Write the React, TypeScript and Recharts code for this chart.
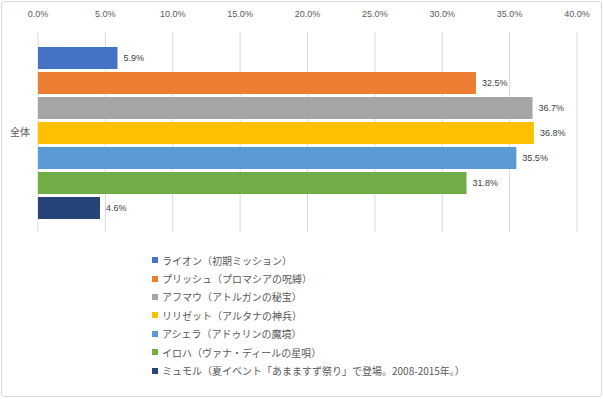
import React from 'react';
import { BarChart, Bar, XAxis, YAxis, CartesianGrid, LabelList } from 'recharts';

const categories = ['全体'];
const seriesNames = [
  'ライオン（初期ミッション）',
  'プリッシュ（プロマシアの呪縛）',
  'アフマウ（アトルガンの秘宝）',
  'リリゼット（アルタナの神兵）',
  'アシェラ（アドゥリンの魔境）',
  'イロハ（ヴァナ・ディールの星唄）',
  'ミュモル（夏イベント「あまますず祭り」で登場。2008-2015年。）',
];
const seriesValues = [0.059, 0.325, 0.367, 0.368, 0.355, 0.318, 0.046];
const seriesColors = ['#4472C4', '#ED7D31', '#A5A5A5', '#FFC000', '#5B9BD5', '#70AD47', '#264478'];
const xTicks = [0, 0.05, 0.1, 0.15, 0.2, 0.25, 0.3, 0.35, 0.4];

const data = categories.map((c) => {
  const row: Record<string, any> = { name: c };
  seriesValues.forEach((v, i) => {
    row['s' + i] = v;
  });
  return row;
});

const pct = (v: any) => (Number(v) * 100).toFixed(1) + '%';
const jpFont = '"Noto Sans CJK JP", "Noto Sans", sans-serif';
const numFont = '"Liberation Sans", "Noto Sans", sans-serif';

export default function App() {
  return (
    <div style={{ position: 'absolute', left: 0, top: 0, width: 603, height: 399, background: '#fff' }}>
      <div
        style={{
          position: 'absolute',
          left: 1,
          top: 1,
          width: 601,
          height: 396,
          boxSizing: 'border-box',
          border: '1px solid #d9d9d9',
          borderRadius: 3,
        }}
      />
      <div style={{ position: 'absolute', left: 0, top: 0 }}>
        <BarChart
          width={603}
          height={399}
          data={data}
          layout="vertical"
          margin={{ top: 4, right: 26, bottom: 167, left: 0 }}
          barCategoryGap={15}
          barGap={3}
        >
          <CartesianGrid horizontal={false} vertical={true} stroke="#d9d9d9" />
          <XAxis
            type="number"
            orientation="top"
            domain={[0, 0.4]}
            ticks={xTicks}
            tickFormatter={pct}
            axisLine={false}
            tickLine={false}
            tickMargin={9}
            height={28}
            interval={0}
            tick={{ fontSize: 9, fill: '#595959', fontFamily: numFont }}
          />
          <YAxis
            type="category"
            dataKey="name"
            width={38}
            axisLine={false}
            tickLine={false}
            tick={{ fontSize: 10, fill: '#595959', fontFamily: jpFont }}
          />
          {seriesNames.map((n, i) => (
            <Bar key={n} dataKey={'s' + i} name={n} fill={seriesColors[i]} isAnimationActive={false}>
              <LabelList
                dataKey={'s' + i}
                position="right"
                offset={6}
                formatter={pct}
                style={{ fontSize: 9, fill: '#404040', fontFamily: numFont }}
              />
            </Bar>
          ))}
        </BarChart>
      </div>
      <div style={{ position: 'absolute', left: 152, top: 251 }}>
        {seriesNames.map((n, i) => (
          <div
            key={n}
            style={{
              display: 'flex',
              alignItems: 'center',
              height: 18.4,
              fontFamily: jpFont,
              fontSize: 10,
              color: '#595959',
              whiteSpace: 'nowrap',
            }}
          >
            <span
              style={{ display: 'inline-block', width: 6, height: 6, background: seriesColors[i], marginRight: 4 }}
            />
            <span>{n}</span>
          </div>
        ))}
      </div>
    </div>
  );
}
